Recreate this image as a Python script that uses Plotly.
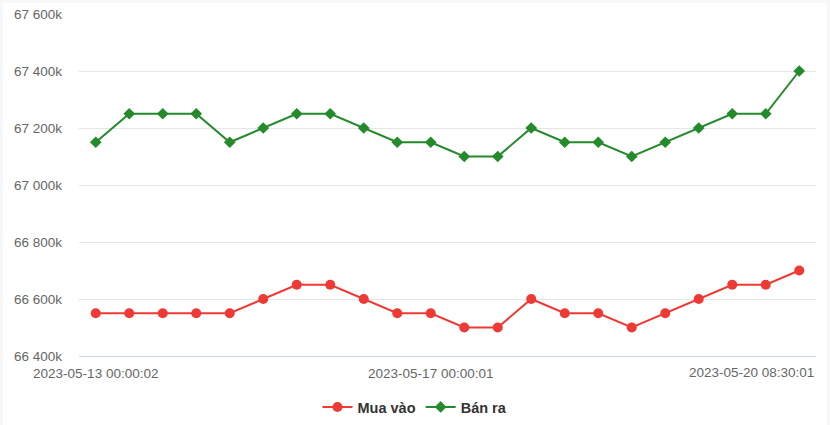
import plotly.graph_objects as go

times = ["2023-05-13 00:00:02"] + [f"t{i}" for i in range(1, 10)] + ["2023-05-17 00:00:01"] + [f"t{i}" for i in range(11, 21)] + ["2023-05-20 08:30:01"]
mua_vao = [66550, 66550, 66550, 66550, 66550, 66600, 66650, 66650, 66600, 66550, 66550,
           66500, 66500, 66600, 66550, 66550, 66500, 66550, 66600, 66650, 66650, 66700]
ban_ra = [67150, 67250, 67250, 67250, 67150, 67200, 67250, 67250, 67200, 67150, 67150,
          67100, 67100, 67200, 67150, 67150, 67100, 67150, 67200, 67250, 67250, 67400]
y_ticks = [66400, 66600, 66800, 67000, 67200, 67400, 67600]
y_tick_labels = [f"{v:,}k".replace(",", " ") for v in y_ticks]
x_tick_idx = [0, 10]

RED = "#ef3934"
GREEN = "#248a2c"
FONT = "Liberation Sans, Arial, sans-serif"
TICK_SIZE = 13.5

x = list(range(len(times)))

fig = go.Figure()
fig.add_trace(go.Scatter(x=x, y=mua_vao, name="Mua vào", mode="lines+markers",
                         line=dict(color=RED, width=2),
                         marker=dict(symbol="circle", size=10, color=RED)))
fig.add_trace(go.Scatter(x=x, y=ban_ra, name="Bán ra", mode="lines+markers",
                         line=dict(color=GREEN, width=2),
                         marker=dict(symbol="diamond", size=9, color=GREEN)))

L, R, T, B = 79, 14, 14, 69
W, H = 830, 425
pw, ph = W - L - R, H - T - B

fig.add_shape(type="rect", xref="paper", yref="paper", layer="below",
              x0=(3 - L) / pw, x1=(827 - L) / pw,
              y0=(H - B - H) / ph, y1=(H - B - 3) / ph,
              fillcolor="white", line=dict(width=0))

fig.add_annotation(x=1, xref="paper", xanchor="right", y=0, yref="paper", yanchor="top",
                   yshift=-7, text=times[-1], showarrow=False,
                   font=dict(family=FONT, size=TICK_SIZE, color="#666666"))

fig.update_layout(
    width=W, height=H,
    margin=dict(l=L, r=R, t=T, b=B, autoexpand=False),
    paper_bgcolor="#f6f7f9", plot_bgcolor="white",
    font=dict(family=FONT, size=TICK_SIZE, color="#666666"),
    xaxis=dict(range=[-0.5, len(times) - 0.5], tickmode="array",
               tickvals=x_tick_idx, ticktext=[times[i] for i in x_tick_idx],
               showgrid=False, zeroline=False, showline=True, linecolor="#ccd6eb",
               linewidth=1, ticks="", ticklen=0, ticklabelstandoff=5, automargin=False,
               tickfont=dict(size=TICK_SIZE, color="#666666")),
    yaxis=dict(range=[66400, 67600], tickmode="array", tickvals=y_ticks,
               ticktext=y_tick_labels, showgrid=True, gridcolor="#e6e6e6",
               zeroline=False, showline=False, ticks="", ticklabelstandoff=16,
               automargin=False, tickfont=dict(size=TICK_SIZE, color="#666666")),
    showlegend=True,
    legend=dict(orientation="h", xref="container", yref="container",
                x=0.5, xanchor="center", y=1 - 407 / H, yanchor="middle",
                font=dict(family=FONT, size=14.5, color="#333333", weight="bold"),
                bgcolor="rgba(0,0,0,0)", itemwidth=30),
)

fig.write_html("out.html", config={"displayModeBar": False},
               post_script="document.body.style.margin='0';")
